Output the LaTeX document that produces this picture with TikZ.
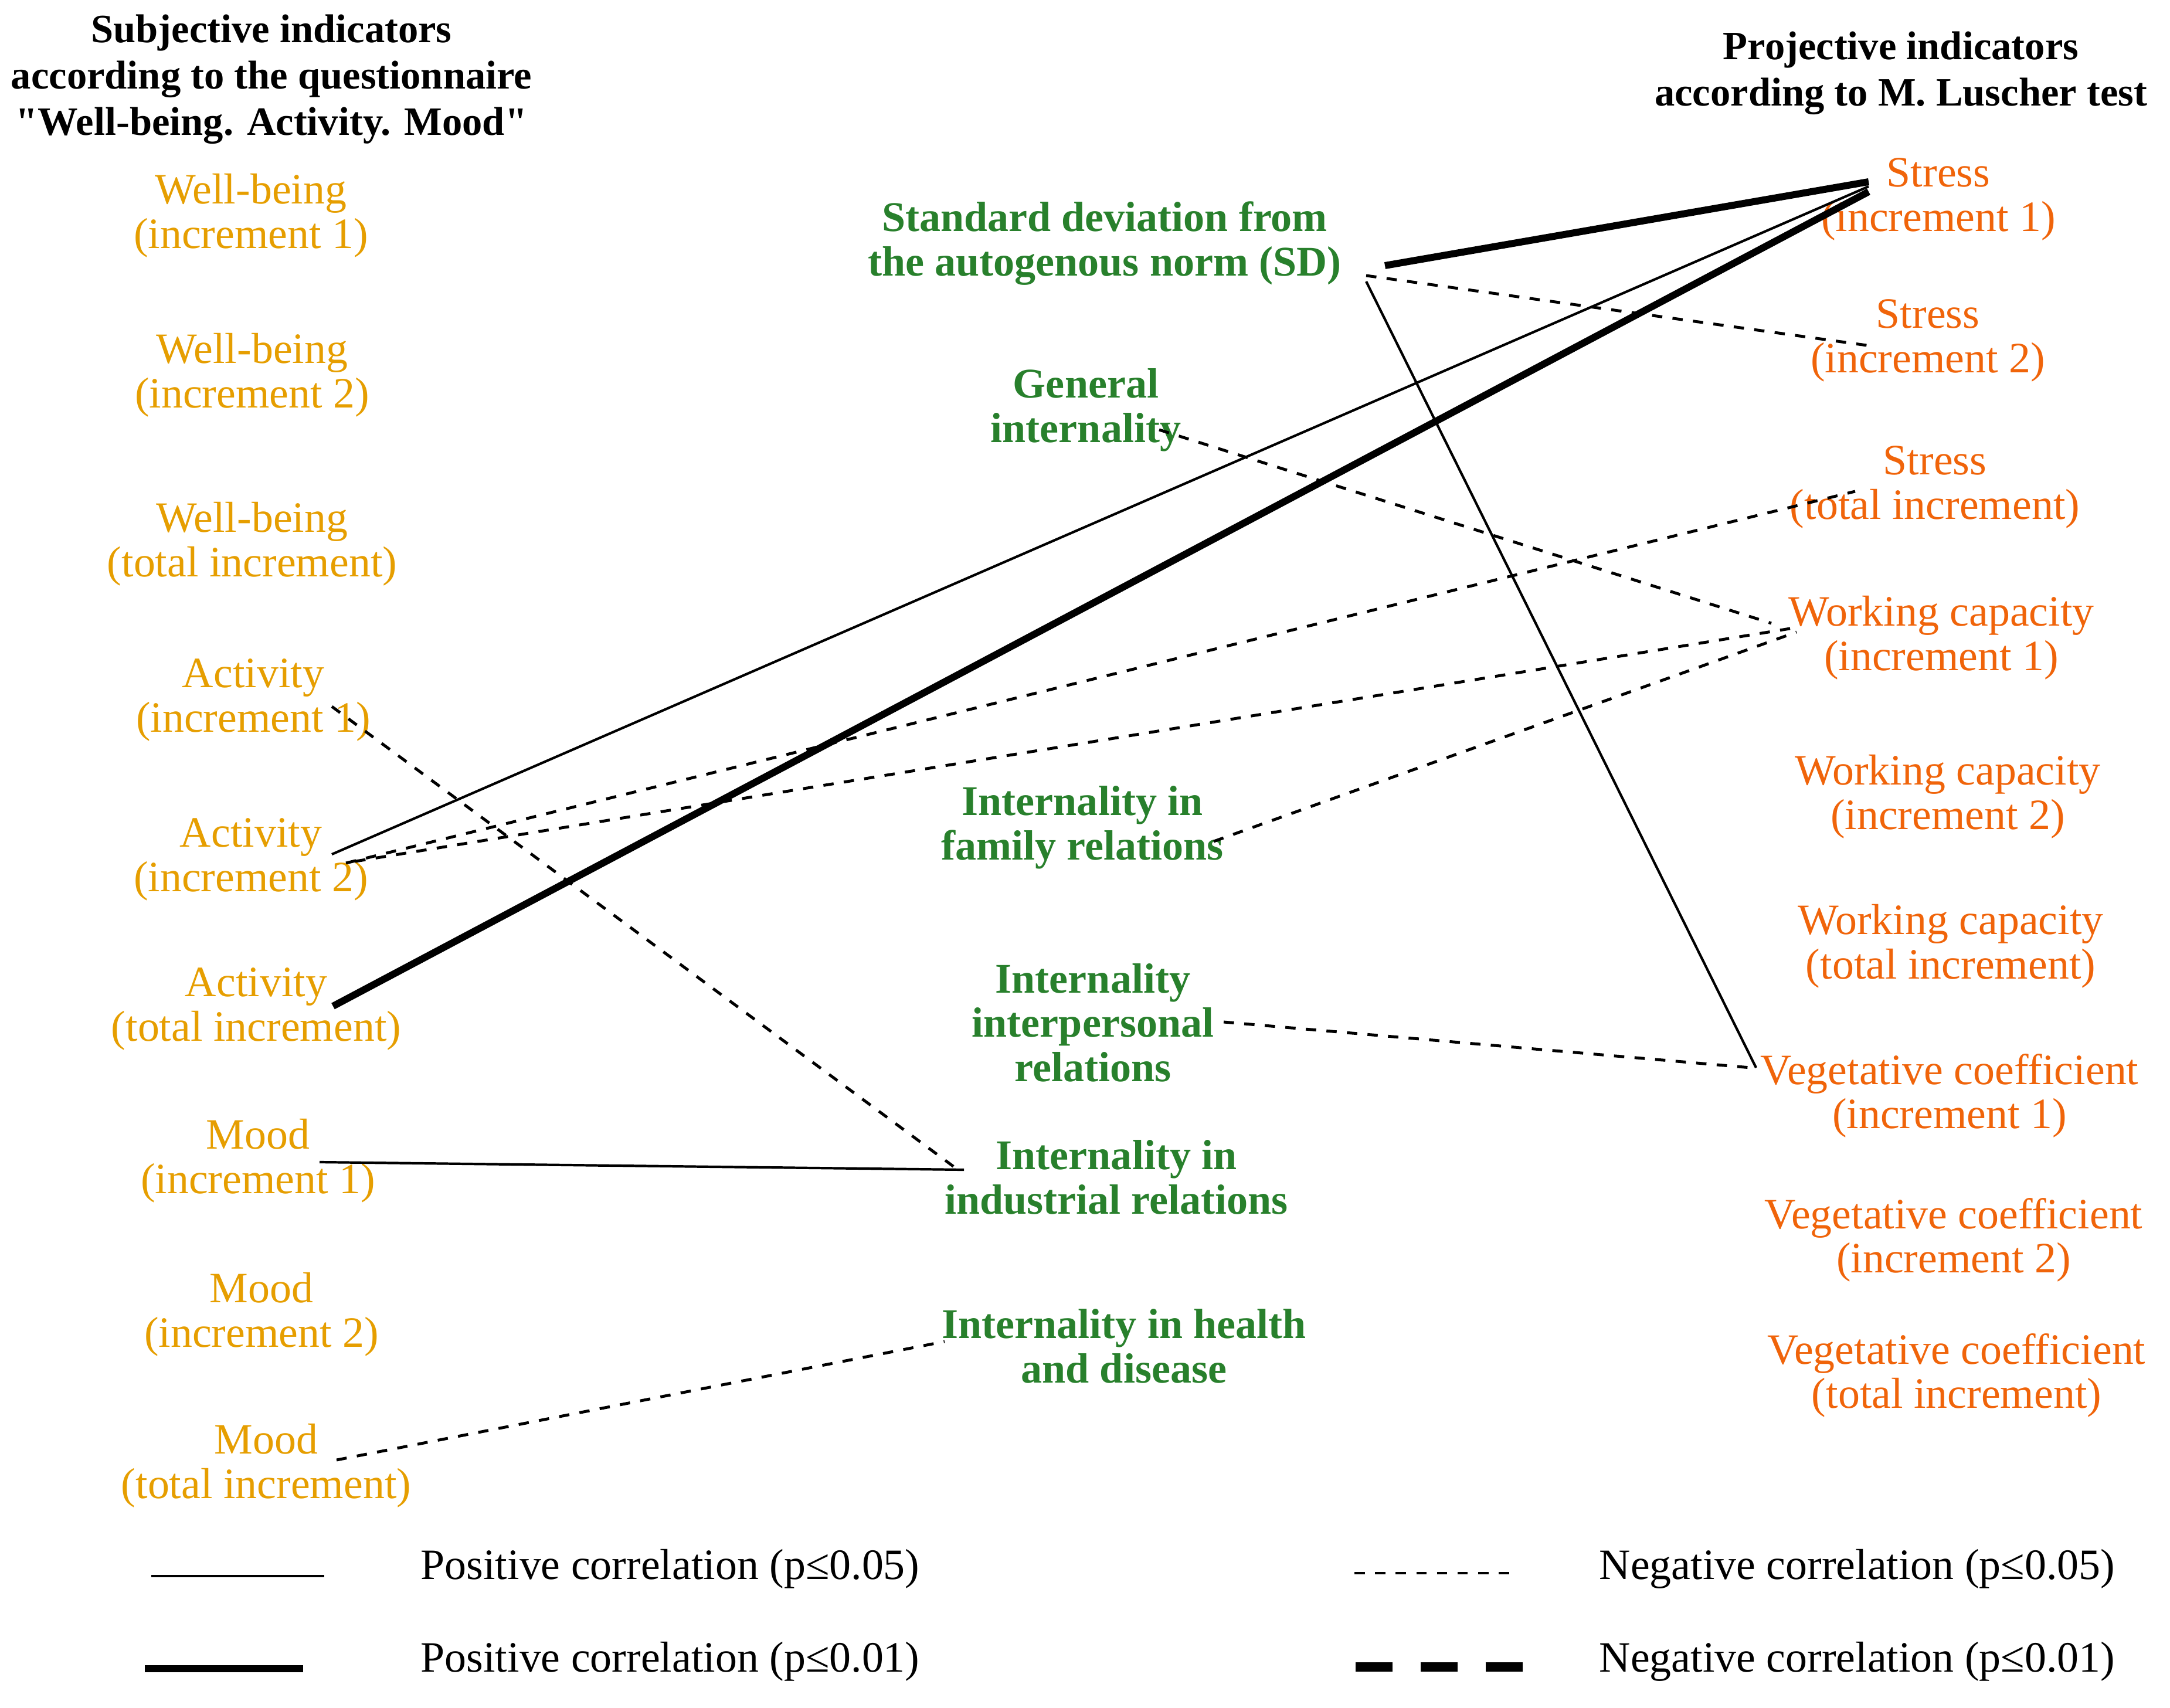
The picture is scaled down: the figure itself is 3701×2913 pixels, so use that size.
\documentclass[tikz,border=0pt]{standalone}
\usepackage{fontspec}
\setmainfont{Liberation Serif}
\newfontfamily\headfont{Liberation Serif}

\definecolor{subjcol}{RGB}{230,158,0}
\definecolor{projcol}{RGB}{240,100,10}
\definecolor{midcol}{RGB}{40,128,44}

\tikzset{
  subj/.style={text=subjcol, align=center, inner sep=0pt, font=\fontsize{21}{21.5}\selectfont},
  proj/.style={text=projcol, align=center, inner sep=0pt, font=\fontsize{21}{21.5}\selectfont},
  mid/.style={text=midcol, align=center, inner sep=0pt, font=\bfseries\fontsize{20.5}{21.5}\selectfont},
  head/.style={align=center, inner sep=0pt, font=\headfont\bfseries\fontsize{19.5}{22.5}\selectfont},
  legtext/.style={anchor=west, inner sep=0pt, font=\fontsize{21}{21.5}\selectfont},
  poscor/.style={line width=1.2pt},
  poscorb/.style={line width=3.4pt},
  negcor/.style={line width=1.4pt, dash pattern=on 5pt off 5pt},
  negcorb/.style={line width=4.5pt, dash pattern=on 18pt off 13.5pt}
}

\begin{document}
\begin{tikzpicture}[x=0.01cm,y=-0.01cm]
%set diagram size: 3701 x 2913
\fill [white] (0,0) rectangle (3701,2913);
\useasboundingbox (0,0) rectangle (3701,2913);

% Text Node: headers
\draw (463,135) node (hdsubj) [head] {Subjective indicators\\according to the questionnaire\\"Well-being. Activity. Mood"};
\draw (3242,125) node (hdproj) [head] {Projective indicators\\according to M. Luscher test};

% Text Node: subjective indicators
\draw (428,368) node (wb1) [subj] {Well-being\\(increment 1)};
\draw (430,640) node (wb2) [subj] {Well-being\\(increment 2)};
\draw (430,928) node (wbt) [subj] {Well-being\\(total increment)};
\draw (432,1194) node (ac1) [subj] {Activity\\(increment 1)};
\draw (428,1466) node (ac2) [subj] {Activity\\(increment 2)};
\draw (437,1721) node (act) [subj] {Activity\\(total increment)};
\draw (440,1980) node (md1) [subj] {Mood\\(increment 1)};
\draw (446,2242) node (md2) [subj] {Mood\\(increment 2)};
\draw (454,2500) node (mdt) [subj] {Mood\\(total increment)};

% Text Node: middle indicators
\draw (1884,415) node (sd) [mid] {Standard deviation from\\the autogenous norm (SD)};
\draw (1852,699) node (gi) [mid] {General\\internality};
\draw (1846,1411) node (fam) [mid] {Internality in\\family relations};
\draw (1864,1744) node (inter) [mid] {Internality\\interpersonal\\relations};
\draw (1904,2008) node (ind) [mid] {Internality in\\industrial relations};
\draw (1917,2296) node (hlth) [mid] {Internality in health\\and disease};

% Text Node: projective indicators
\draw (3306,340) node (s1) [proj] {Stress\\(increment 1)};
\draw (3288,581) node (s2) [proj] {Stress\\(increment 2)};
\draw (3300,831) node (stt) [proj] {Stress\\(total increment)};
\draw (3311,1088) node (wc1) [proj] {Working capacity\\(increment 1)};
\draw (3322,1359) node (wc2) [proj] {Working capacity\\(increment 2)};
\draw (3327,1614) node (wct) [proj] {Working capacity\\(total increment)};
\draw (3325,1869) node (vc1) [proj] {Vegetative coefficient\\(increment 1)};
\draw (3332,2115) node (vc2) [proj] {Vegetative coefficient\\(increment 2)};
\draw (3337,2346) node (vct) [proj] {Vegetative coefficient\\(total increment)};

% line ends
\coordinate (sd-a) at (2362,453);
\coordinate (sd-b) at (2330,470);
\coordinate (sd-c) at (2330,480);
\coordinate (gi-a) at (1977,733);
\coordinate (fam-a) at (2070,1435);
\coordinate (inter-a) at (2087,1743);
\coordinate (ind-a) at (1627,1990);
\coordinate (ind-b) at (1644,1995);
\coordinate (hlth-a) at (1611,2288);
\coordinate (ac1-a) at (566,1205);
\coordinate (ac2-a) at (566,1457);
\coordinate (ac2-b) at (590,1472);
\coordinate (ac2-c) at (606,1469);
\coordinate (act-a) at (568,1716);
\coordinate (md1-a) at (545,1982);
\coordinate (mdt-a) at (574,2490);
\coordinate (s1-a) at (3187,310);
\coordinate (s1-b) at (3187,318);
\coordinate (s1-c) at (3187,327);
\coordinate (s2-a) at (3191,590);
\coordinate (stt-a) at (3164,838);
\coordinate (wc1-a) at (3021,1063);
\coordinate (wc1-b) at (3053,1072);
\coordinate (wc1-c) at (3064,1078);
\coordinate (vc1-a) at (2995,1821);
\coordinate (vc1-b) at (2986,1821);

%Straight Lines: positive correlations
\draw [poscorb] (sd-a) -- (s1-a);
\draw [poscor] (ac2-a) -- (s1-b);
\draw [poscorb] (act-a) -- (s1-c);
\draw [poscor] (sd-c) -- (vc1-a);
\draw [poscor] (md1-a) -- (ind-b);

%Straight Lines: negative correlations
\draw [negcor] (sd-b) -- (s2-a);
\draw [negcor] (gi-a) -- (wc1-a);
\draw [negcor] (ac2-b) -- (stt-a);
\draw [negcor] (ac2-c) -- (wc1-b);
\draw [negcor] (fam-a) -- (wc1-c);
\draw [negcor] (ac1-a) -- (ind-a);
\draw [negcor] (inter-a) -- (vc1-b);
\draw [negcor] (mdt-a) -- (hlth-a);

% legend
\coordinate (lg1a) at (258,2688);
\coordinate (lg1b) at (553,2688);
\coordinate (lg2a) at (247,2846);
\coordinate (lg2b) at (517,2846);
\coordinate (lg3a) at (2310,2683);
\coordinate (lg3b) at (2583,2683);
\coordinate (lg4a) at (2312,2843);
\coordinate (lg4b) at (2600,2843);
\draw [poscor] (lg1a) -- (lg1b);
\draw [poscorb] (lg2a) -- (lg2b);
\draw [negcor] (lg3a) -- (lg3b);
\draw [negcorb] (lg4a) -- (lg4b);
\draw (717,2676) node (lgt1) [legtext] {Positive correlation (p≤0.05)};
\draw (717,2834) node (lgt2) [legtext] {Positive correlation (p≤0.01)};
\draw (2727,2676) node (lgt3) [legtext] {Negative correlation (p≤0.05)};
\draw (2727,2834) node (lgt4) [legtext] {Negative correlation (p≤0.01)};

\end{tikzpicture}
\end{document}
